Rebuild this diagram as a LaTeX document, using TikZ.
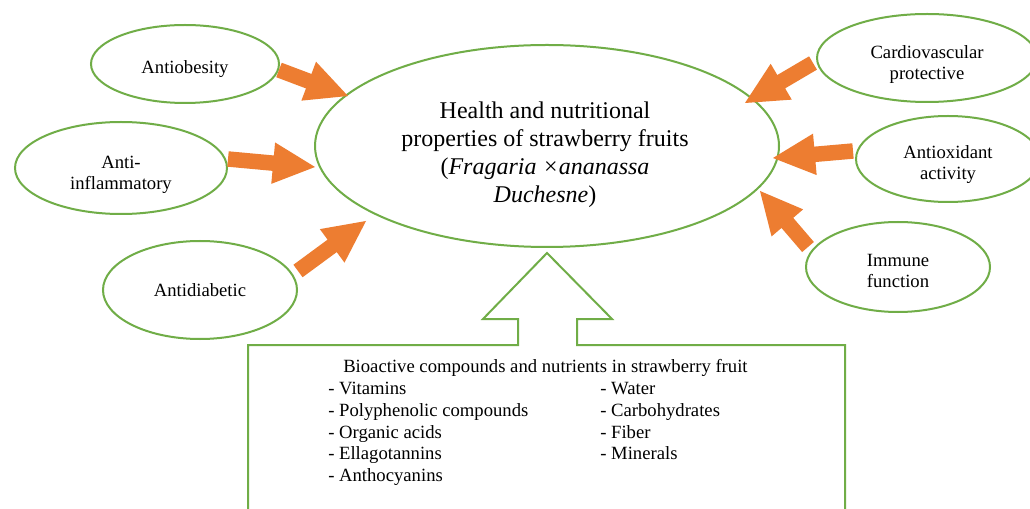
\documentclass[tikz,border=0pt]{standalone}
\usepackage{fontspec}
\setmainfont{Liberation Serif}
\usetikzlibrary{shapes.geometric,calc}
\definecolor{grn}{HTML}{70AD47}
\definecolor{org}{HTML}{ED7D31}
\newcommand\blockarrow[2]{%
  \coordinate (bah) at ($(#2)!31.5pt!(#1)$);
  \fill[org] ($(#1)!5.8pt!90:(#2)$) -- ($(bah)!5.8pt!90:(#2)$) -- ($(bah)!15.6pt!90:(#2)$) -- (#2)
    -- ($(bah)!15.6pt!-90:(#2)$) -- ($(bah)!5.8pt!-90:(#2)$) -- ($(#1)!5.8pt!-90:(#2)$) -- cycle;}
\newcommand\dn[1]{\rule{0pt}{#1}}
\tikzset{
  sm/.style={font=\fontsize{14}{15.75}\selectfont},
  big/.style={font=\fontsize{18}{21}\selectfont},
  oval/.style 2 args={ellipse, draw=grn, line width=1.5pt, inner sep=0pt,
    minimum width=#1*0.75pt, minimum height=#2*0.75pt, align=center, sm},
  item/.style={anchor=base west, sm, inner sep=0pt}
}
\begin{document}
\begin{tikzpicture}[x=0.75pt,y=-0.75pt]
\useasboundingbox (0,0) rectangle (1030,509);
\clip (0,0) rectangle (1030,509);
\fill[white] (0,0) rectangle (1030,509);
% ellipses
\node[oval={464}{202}] (main) at (547,146) {};
\node[big, align=center, inner sep=0pt] (mt) at (545,155) {Health and nutritional\\properties of strawberry fruits\\(\textit{Fragaria ×ananassa}\\\textit{Duchesne})};
\node[oval={188}{78}] (ob) at (185,64) {\dn{17pt}Antiobesity};
\node[oval={212}{92}] (inf) at (121,168) {\dn{19pt}Anti-\\inflammatory};
\node[oval={194}{98}] (dia) at (200,290) {Antidiabetic};
\node[oval={220}{88}] (car) at (927,58) {\dn{19pt}Cardiovascular\\protective};
\node[oval={184}{86}] (aox) at (948,159) {\dn{18pt}Antioxidant\\activity};
\node[oval={184}{90}] (imm) at (898,267) {\dn{15pt}Immune\\function};
% arrow end points
\coordinate (obT) at (279,70);  \coordinate (obH) at (348,96);
\coordinate (infT) at (228,159); \coordinate (infH) at (315,167);
\coordinate (diaT) at (298,271); \coordinate (diaH) at (366,221);
\coordinate (carT) at (813,63); \coordinate (carH) at (745,103);
\coordinate (aoxT) at (853,151); \coordinate (aoxH) at (773,158);
\coordinate (immT) at (808,247); \coordinate (immH) at (760,191);
\blockarrow{obT}{obH}
\blockarrow{infT}{infH}
\blockarrow{diaT}{diaH}
\blockarrow{carT}{carH}
\blockarrow{aoxT}{aoxH}
\blockarrow{immT}{immH}
% bottom box with up arrow
\draw[grn, line width=1.5pt] (248,530) -- (248,345) -- (518,345) -- (518,319) -- (483,319)
  -- (547,253) -- (612,319) -- (577,319) -- (577,345) -- (845,345) -- (845,530);
\node[item] (bt) at (343,372) {Bioactive compounds and nutrients in strawberry fruit};
\node[item] (l1) at (328,394) {- Vitamins};
\node[item] (l2) at (328,416) {- Polyphenolic compounds};
\node[item] (l3) at (328,438) {- Organic acids};
\node[item] (l4) at (328,459) {- Ellagotannins};
\node[item] (l5) at (328,481) {- Anthocyanins};
\node[item] (r1) at (600,394) {- Water};
\node[item] (r2) at (600,416) {- Carbohydrates};
\node[item] (r3) at (600,438) {- Fiber};
\node[item] (r4) at (600,459) {- Minerals};
\end{tikzpicture}
\end{document}
